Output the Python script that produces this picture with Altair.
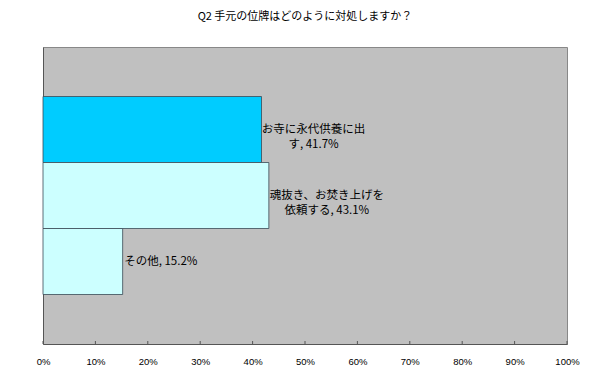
import altair as alt
import pandas as pd

title_text = "Q2  手元の位牌はどのように対処しますか？"
categories = ["お寺に永代供養に出す", "魂抜き、お焚き上げを依頼する", "その他"]
values = [41.7, 43.1, 15.2]
label_texts = ["お寺に永代供養に出\nす, 41.7%", "魂抜き、お焚き上げを\n依頼する, 43.1%", "その他, 15.2%"]
bar_colors = ["#00CCFF", "#CCFFFF", "#CCFFFF"]
tick_values = [0, 10, 20, 30, 40, 50, 60, 70, 80, 90, 100]

df = pd.DataFrame({"cat": categories, "value": values, "label": label_texts, "color": bar_colors})
ticks_df = pd.DataFrame({"t": tick_values})

FONT = "Noto Sans CJK JP"
W, H = 524, 297

y_enc = alt.Y("cat:N", sort=categories,
              scale=alt.Scale(paddingInner=0, paddingOuter=0.75),
              axis=alt.Axis(labels=False, ticks=False, title=None, domainColor="#555555", grid=False))
x_enc = alt.X("value:Q", scale=alt.Scale(domain=[0, 100], nice=False),
              axis=alt.Axis(values=tick_values, labelExpr="datum.value + '%'", title=None, grid=False,
                            ticks=False, domainColor="#555555",
                            labelPadding=12, labelFlush=False, labelOverlap=False,
                            labelFont="Liberation Sans", labelFontSize=9.5, labelColor="#000000"))

bars = alt.Chart(df).mark_bar(stroke="#3a4a55", strokeWidth=0.8).encode(
    x=x_enc, y=y_enc, color=alt.Color("color:N", scale=None)
)

tick_marks = alt.Chart(ticks_df).mark_rule(color="#555555", strokeWidth=1).encode(
    x=alt.X("t:Q"), y=alt.value(H), y2=alt.value(H - 3)
)

def text_layer(cat, dx, align):
    return alt.Chart(df).transform_filter(alt.datum.cat == cat).mark_text(
        align=align, baseline="middle", dx=dx, font=FONT, fontSize=11.5, lineBreak="\n", lineHeight=15.5, color="#000000"
    ).encode(x="value:Q", y=alt.Y("cat:N", sort=categories), text="label:N")

texts = text_layer(categories[0], 52, "center") + text_layer(categories[1], 58, "center") + text_layer(categories[2], 1.5, "left")

chart = alt.layer(bars, tick_marks, texts).properties(
    width=W, height=H,
    title=alt.TitleParams(title_text, font=FONT, fontSize=11, fontWeight="normal", anchor="middle", offset=25, color="#000000"),
    autosize=alt.AutoSizeParams(type="none"),
    padding={"left": 35, "top": 39, "right": 15, "bottom": 25},
    background="#ffffff",
).configure_view(fill="#C0C0C0", stroke="#888888", strokeWidth=1)

chart.save("out.html", embed_options={"renderer": "svg", "actions": False})
